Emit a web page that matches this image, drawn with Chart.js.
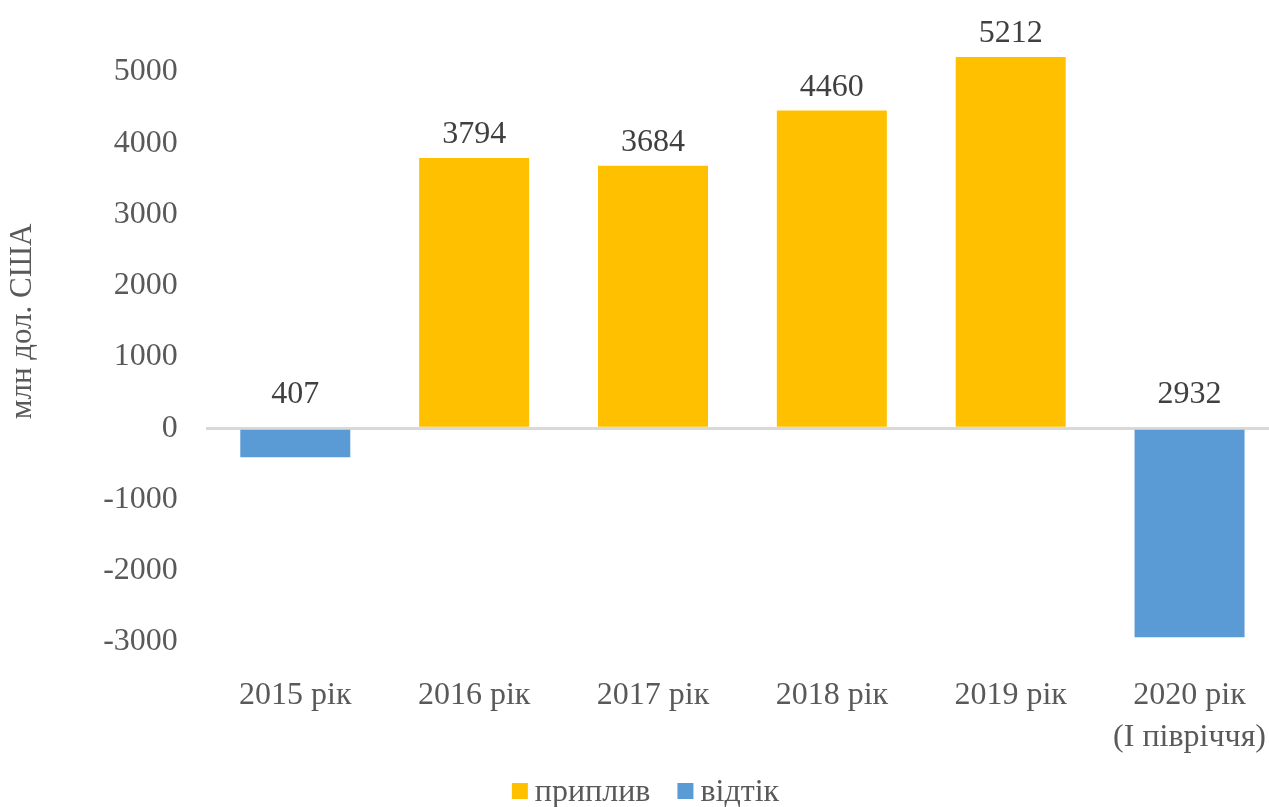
<!DOCTYPE html>
<html>
<head>
<meta charset="utf-8">
<script src="https://cdn.jsdelivr.net/npm/chart.js@4/dist/chart.umd.min.js"></script>
<style>
  html, body { margin: 0; padding: 0; background: #fff; overflow: hidden; }
  #wrap { position: absolute; left: 0; top: -48px; width: 1291px; height: 871px; }
</style>
</head>
<body>
<div id="wrap"><canvas id="chart"></canvas></div>
<script>
// data
const categories = ['2015 рік', '2016 рік', '2017 рік', '2018 рік', '2019 рік', ['2020 рік', '(І півріччя)']];
const inflow = [null, 3794, 3684, 4460, 5212, null];
const outflow = [-407, null, null, null, null, -2932];
const seriesNames = ['приплив', 'відтік'];
const seriesColors = ['#FFC000', '#5B9BD5'];
const yTicks = { min: -3000, max: 6000, step: 1000 };

const FONT = "'Liberation Serif', 'Times New Roman', serif";

// value labels: above bar top for inflow, above zero line for outflow (shown as absolute value)
const valueLabels = {
  id: 'valueLabels',
  afterDatasetsDraw(chart) {
    const ctx = chart.ctx;
    const y = chart.scales.y;
    ctx.save();
    ctx.font = '32px ' + FONT;
    ctx.fillStyle = '#404040';
    ctx.textAlign = 'center';
    ctx.textBaseline = 'alphabetic';
    chart.data.datasets.forEach((ds, di) => {
      chart.getDatasetMeta(di).data.forEach((bar, i) => {
        const v = ds.data[i];
        if (v === null) return;
        const yy = v >= 0 ? bar.y - 15 : y.getPixelForValue(0) - 25;
        ctx.fillText(String(Math.abs(v)), bar.x, yy);
      });
    });
    ctx.restore();
  }
};

// legend drawn by hand, Excel-like spacing (small square, tight gap to text)
const bottomLegend = {
  id: 'bottomLegend',
  afterDraw(chart) {
    const ctx = chart.ctx;
    ctx.save();
    ctx.font = '32px ' + FONT;
    ctx.textBaseline = 'middle';
    ctx.textAlign = 'left';
    const box = 16, gap = 7, itemGap = 27;
    const items = chart.data.datasets.map(ds => ({ text: ds.label, color: ds.backgroundColor, w: ctx.measureText(ds.label).width }));
    let total = items.reduce((s, it) => s + box + gap + it.w, 0) + itemGap * (items.length - 1);
    let x = chart.width / 2 - total / 2;
    const cy = chart.height - 32;
    items.forEach(it => {
      ctx.fillStyle = it.color;
      ctx.fillRect(x, cy - box / 2, box, box);
      x += box + gap;
      ctx.fillStyle = '#595959';
      ctx.fillText(it.text, x, cy + 2);
      x += it.w + itemGap;
    });
    ctx.restore();
  }
};

new Chart(document.getElementById('chart'), {
  type: 'bar',
  data: {
    labels: categories,
    datasets: [
      { label: seriesNames[0], data: inflow, backgroundColor: seriesColors[0] },
      { label: seriesNames[1], data: outflow, backgroundColor: seriesColors[1] }
    ]
  },
  options: {
    responsive: true,
    maintainAspectRatio: false,
    animation: false,
    datasets: { bar: { categoryPercentage: 1, barPercentage: 0.615 } },
    layout: { padding: { bottom: 51 } },
    plugins: {
      legend: { display: false },
      tooltip: { enabled: false }
    },
    scales: {
      x: {
        stacked: true,
        grid: { display: false },
        border: { display: false },
        afterFit: s => { s.height = 130; },
        ticks: { font: { family: FONT, size: 32, lineHeight: 1.3 }, color: '#595959', padding: 25, maxRotation: 0, autoSkip: false }
      },
      y: {
        stacked: true,
        min: yTicks.min,
        max: yTicks.max,
        border: { display: false },
        grid: {
          drawTicks: false,
          color: c => c.tick && c.tick.value === 0 ? '#d9d9d9' : 'rgba(0,0,0,0)',
          lineWidth: c => c.tick && c.tick.value === 0 ? 3 : 0
        },
        ticks: {
          stepSize: yTicks.step,
          font: { family: FONT, size: 32, lineHeight: 1.3 },
          color: '#595959',
          padding: 28,
          callback: v => v === yTicks.max ? '' : v
        },
        title: { display: true, text: 'млн дол. США', font: { family: FONT, size: 31 }, color: '#595959', padding: { top: 4, bottom: 34 } }
      }
    }
  },
  plugins: [valueLabels, bottomLegend]
});
</script>
</body>
</html>
